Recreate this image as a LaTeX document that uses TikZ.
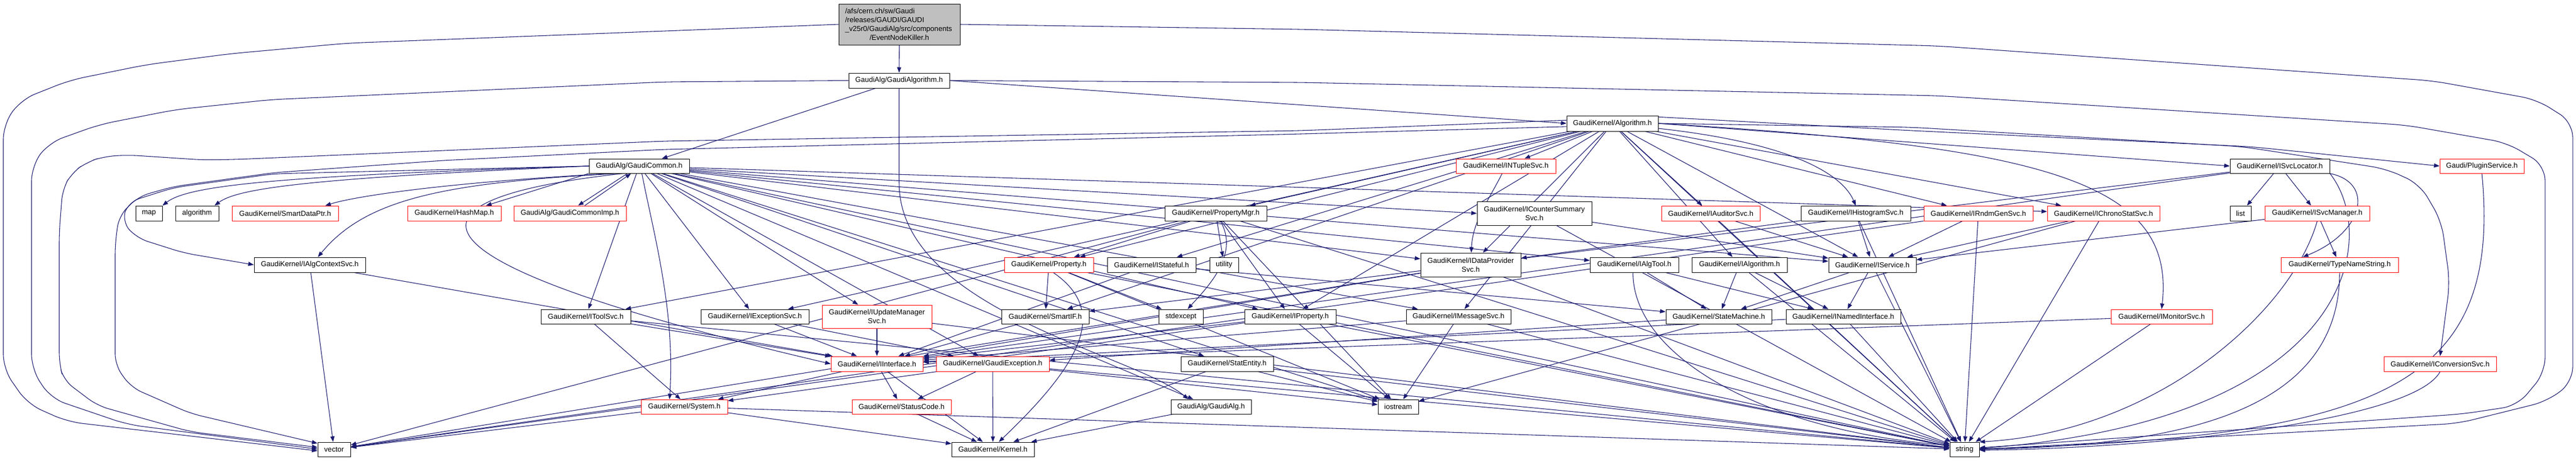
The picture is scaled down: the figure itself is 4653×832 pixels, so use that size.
\documentclass[tikz,border=0pt]{standalone}
\usepackage{fontspec}
\setmainfont{Liberation Sans}
\usetikzlibrary{arrows.meta}
\definecolor{navy}{RGB}{25,25,112}
\definecolor{topgray}{RGB}{191,191,191}
\newcommand\nodefont{\fontsize{9.8}{12}\selectfont}
\newcommand\gnode[7]{\node[#6, minimum width={(#4-#2)*0.75pt}, minimum height={(#5-#3)*0.75pt}] (#1) at ({(#2+#4)/2},{(#3+#5)/2}) {#7};}
\pgfdeclarelayer{back}
\pgfdeclarelayer{bg}
\pgfsetlayers{back,bg,main}
\begin{document}
\begin{tikzpicture}[x=0.75pt,y=-0.75pt,
  nbox/.style={draw=black, line width=0.75pt, fill=white, inner sep=0pt, font=\nodefont, align=center},
  rbox/.style={nbox, draw=red},
  gbox/.style={nbox, fill=topgray},
  dep/.style={draw=navy, line width=0.8pt, -{Triangle[length=7.5pt,width=5.5pt]}}]
\begin{pgfonlayer}{back}
\fill[white] (0,0) rectangle (4653,832);
\end{pgfonlayer}
\useasboundingbox (0,0) rectangle (4653,832);
% nodes
\gnode{top}{1515}{7}{1734}{81}{gbox}{\parbox{147pt}{\raggedright /afs/cern.ch/sw/Gaudi\\/releases/GAUDI/GAUDI\\\_v25r0/GaudiAlg/src/components\\\makebox[147pt]{/EventNodeKiller.h}}}
\gnode{galgo}{1533}{132}{1715}{159}{nbox}{GaudiAlg/GaudiAlgorithm.h}
\gnode{algo}{2830}{209}{2995}{237}{nbox}{GaudiKernel/Algorithm.h}
\gnode{gcom}{1064}{287}{1245}{313}{nbox}{GaudiAlg/GaudiCommon.h}
\gnode{ntuple}{2630}{287}{2810}{313}{rbox}{GaudiKernel/INTupleSvc.h}
\gnode{svcloc}{4028}{287}{4208}{313}{nbox}{GaudiKernel/ISvcLocator.h}
\gnode{plugin}{4407}{287}{4559}{313}{rbox}{Gaudi/PluginService.h}
\gnode{map}{245}{372}{293}{399}{nbox}{map}
\gnode{algm}{317}{372}{395}{399}{nbox}{algorithm}
\gnode{sdptr}{419}{372}{611}{399}{rbox}{GaudiKernel/SmartDataPtr.h}
\gnode{hashmap}{736}{372}{905}{399}{rbox}{GaudiKernel/HashMap.h}
\gnode{gcimp}{928}{372}{1131}{399}{rbox}{GaudiAlg/GaudiCommonImp.h}
\gnode{propmgr}{2104}{372}{2288}{399}{nbox}{GaudiKernel/PropertyMgr.h}
\gnode{counter}{2668}{364}{2875}{407}{nbox}{GaudiKernel/ICounterSummary\\Svc.h}
\gnode{auditor}{3001}{372}{3179}{399}{rbox}{GaudiKernel/IAuditorSvc.h}
\gnode{histo}{3253}{372}{3451}{399}{nbox}{GaudiKernel/IHistogramSvc.h}
\gnode{rndm}{3475}{372}{3672}{399}{rbox}{GaudiKernel/IRndmGenSvc.h}
\gnode{chrono}{3698}{372}{3901}{399}{rbox}{GaudiKernel/IChronoStatSvc.h}
\gnode{list}{4028}{372}{4066}{399}{nbox}{list}
\gnode{svcmgr}{4091}{372}{4280}{399}{rbox}{GaudiKernel/ISvcManager.h}
\gnode{actx}{459}{465}{660}{492}{nbox}{GaudiKernel/IAlgContextSvc.h}
\gnode{prop}{1814}{465}{1975}{492}{rbox}{GaudiKernel/Property.h}
\gnode{stateful}{2000}{465}{2160}{492}{nbox}{GaudiKernel/IStateful.h}
\gnode{utility}{2185}{465}{2237}{492}{nbox}{utility}
\gnode{dataprov}{2566}{457}{2747}{500}{nbox}{GaudiKernel/IDataProvider\\Svc.h}
\gnode{algtool}{2872}{465}{3032}{492}{nbox}{GaudiKernel/IAlgTool.h}
\gnode{ialgo}{3056}{465}{3228}{492}{nbox}{GaudiKernel/IAlgorithm.h}
\gnode{iservice}{3303}{465}{3461}{492}{nbox}{GaudiKernel/IService.h}
\gnode{tns}{4120}{465}{4332}{492}{rbox}{GaudiKernel/TypeNameString.h}
\gnode{toolsvc}{977}{559}{1139}{585}{nbox}{GaudiKernel/IToolSvc.h}
\gnode{excsvc}{1266}{559}{1461}{585}{nbox}{GaudiKernel/IExceptionSvc.h}
\gnode{updmgr}{1485}{551}{1683}{593}{rbox}{GaudiKernel/IUpdateManager\\Svc.h}
\gnode{smartif}{1809}{559}{1967}{585}{nbox}{GaudiKernel/SmartIF.h}
\gnode{stdexc}{2093}{559}{2173}{585}{nbox}{stdexcept}
\gnode{iprop}{2248}{559}{2413}{585}{nbox}{GaudiKernel/IProperty.h}
\gnode{msgsvc}{2540}{559}{2729}{585}{nbox}{GaudiKernel/IMessageSvc.h}
\gnode{statem}{3009}{559}{3200}{585}{nbox}{GaudiKernel/StateMachine.h}
\gnode{named}{3226}{559}{3433}{585}{nbox}{GaudiKernel/INamedInterface.h}
\gnode{monitor}{3813}{559}{3996}{585}{rbox}{GaudiKernel/IMonitorSvc.h}
\gnode{iface}{1501}{644}{1667}{671}{rbox}{GaudiKernel/IInterface.h}
\gnode{gexc}{1691}{644}{1895}{671}{rbox}{GaudiKernel/GaudiException.h}
\gnode{statent}{2133}{644}{2300}{671}{nbox}{GaudiKernel/StatEntity.h}
\gnode{convsvc}{4306}{644}{4509}{671}{rbox}{GaudiKernel/IConversionSvc.h}
\gnode{system}{1158}{722}{1314}{748}{rbox}{GaudiKernel/System.h}
\gnode{statcode}{1539}{722}{1718}{748}{rbox}{GaudiKernel/StatusCode.h}
\gnode{galg}{2115}{722}{2260}{748}{nbox}{GaudiAlg/GaudiAlg.h}
\gnode{iostream}{2489}{722}{2562}{748}{nbox}{iostream}
\gnode{vector}{574}{799}{633}{825}{nbox}{vector}
\gnode{kernel}{1719}{799}{1868}{825}{nbox}{GaudiKernel/Kernel.h}
\gnode{string}{3522}{799}{3575}{825}{nbox}{string}
\begin{pgfonlayer}{bg}
% outer routes, left
\draw[dep, rounded corners=20pt] (top.west) -- (628,78) -- (417,97) -- (264,117) -- (126,145) -- (38,180) -- (6,225) -- (6,667) -- (50,730) -- (122,762) -- (vector.185);
\draw[dep, rounded corners=20pt] (galgo.west) -- (1200,148) -- (490,180) -- (318,198) -- (180,225) -- (88,258) -- (57,300) -- (57,667) -- (92,720) -- (230,767) -- (vector.179);
\draw[dep, rounded corners=15pt] (algo.176) -- (2350,236) -- (1200,255) -- (428,288) -- (367,289) -- (230,280) -- (187,283) -- (157,293) -- (130,312) -- (113,342) -- (107,420) -- (107,657) -- (115,687) -- (176,733) -- (344,780) -- (vector.173);
\draw[dep, rounded corners=15pt] (algo.184) -- (2350,242) -- (1200,270) -- (800,290) -- (495,312) -- (314,337) -- (250,355) -- (215,390) -- (208,440) -- (208,660) -- (237,700) -- (344,747) -- (vector.160);
\draw[dep, rounded corners=15pt] (gcom.west) -- (495,314) -- (314,339) -- (232,365) -- (220,400) -- (247,430) -- (332,457) -- (actx.west);
% outer routes, right
\draw[dep, rounded corners=20pt] (top.east) -- (2350,53) -- (3500,83) -- (4394,146) -- (4582,180) -- (4647,221) -- (4647,690) -- (4601,725) -- (4440,765) -- (string.east);
\draw[dep, rounded corners=20pt] (galgo.east) -- (2350,149) -- (3500,173) -- (4345,226) -- (4528,258) -- (4597,299) -- (4597,673) -- (4547,733) -- (4448,748) -- (string.6);
\draw[dep, rounded corners=20pt] (algo.east) -- (3453,230) -- (4050,265) -- (4310,305) -- (4371,333) -- (4410,400) -- (4425,510) -- (convsvc.north);
\draw[dep, rounded corners=20pt] (algo.8) -- (3453,236) -- (4065,265) -- (plugin.west);
\draw[dep] (algo.east) -- (svcloc.west);
\draw[dep] (algo.east) .. controls (3700,265) and (3930,330) .. (monitor.north);
% top, GaudiAlgorithm
\draw[dep] (top) -- (galgo);
\draw[dep] (galgo) -- (gcom);
\draw[dep] (galgo.east) -- (algo.west);
\draw[dep] (galgo.south) -- (1624,330) .. controls (1624,560) and (2050,640) .. ([xshift=24pt]galg.north west);
% GaudiCommon
\draw[dep] (gcom.west) .. controls (500,318) and (340,335) .. (map.north east);
\draw[dep] (gcom.west) .. controls (560,322) and (430,340) .. ([xshift=-6pt]algm.north east);
\draw[dep] (gcom.195) .. controls (800,330) and (640,355) .. ([xshift=-18pt]sdptr.north east);
\draw[dep] (gcom.south west) -- ([xshift=43pt]hashmap.north);
\draw[dep] ([xshift=-16pt]gcom.south) -- ([xshift=11pt]gcimp.north);
\draw[dep] ([xshift=20pt]gcimp.north) -- ([xshift=-11pt]gcom.south);
\draw[dep] (gcom.200) .. controls (800,330) and (660,360) .. ([xshift=11pt]actx.north);
\draw[dep] (gcom.205) .. controls (700,360) and (700,470) .. (iface.west);
\draw[dep] (gcom) -- (toolsvc);
\draw[dep] (gcom.-70) .. controls (1180,420) and (1220,560) .. ([xshift=-20pt]system.north);
\draw[dep] (gcom) -- (excsvc);
\draw[dep] (gcom) -- (updmgr);
\draw[dep] (gcom) -- (gexc);
\draw[dep] (gcom) -- (statent);
\draw[dep] (gcom) -- (galg);
\draw[dep] (gcom) -- (dataprov);
\draw[dep] (gcom) -- (counter.west);
\draw[dep] (gcom) -- (chrono);
\draw[dep] (gcom) -- (algtool);
\draw[dep] (gcom) -- (iservice);
\draw[dep] (gcom) -- (msgsvc);
\draw[dep] (gcom) -- (iprop);
\draw[dep] (gcom) -- (iostream);
\draw[dep] (gcom) -- (string);
% Algorithm
\draw[dep] (algo) -- (ntuple);
\draw[dep] (algo) -- (auditor);
\draw[dep] (algo) .. controls (3250,260) and (3330,320) .. (histo.north);
\draw[dep] (algo) -- (rndm);
\draw[dep] (algo) -- (chrono);
\draw[dep] (algo) -- (dataprov);
\draw[dep] (algo) -- (ialgo);
\draw[dep] (algo) -- (iservice);
\draw[dep] (algo) -- (iprop);
\draw[dep] (algo) -- (propmgr);
\draw[dep] (algo) -- (msgsvc);
\draw[dep] (algo) -- (stateful);
\draw[dep] (algo) -- (prop);
\draw[dep] (algo) -- (toolsvc);
\draw[dep] (algo) -- (excsvc);
\draw[dep] (algo) -- (smartif);
\draw[dep] (algo) -- (string);
% second level
\draw[dep] (ntuple) .. controls (2690,360) and (2660,400) .. (dataprov);
\draw[dep] (svcloc) -- (list);
\draw[dep] (svcloc) -- (svcmgr);
\draw[dep] (svcloc.south east) .. controls (4290,330) and (4270,420) .. ([xshift=30pt]tns.north west);
\draw[dep] (svcloc) -- (iface);
\draw[dep] (svcloc) -- (smartif);
\draw[dep] (svcloc.south east) .. controls (4300,430) and (4250,760) .. (string.4);
\draw[dep] (plugin.south) .. controls (4520,700) and (4300,790) .. (string.2);
\draw[dep] (propmgr) -- (prop);
\draw[dep] (propmgr) -- (iprop);
\draw[dep] (propmgr) -- (utility);
\draw[dep] (propmgr) .. controls (2240,460) and (2180,520) .. (stdexc);
\draw[dep] (propmgr) -- (vector);
\draw[dep] (propmgr) -- (string);
\draw[dep] (propmgr) -- (iostream);
\draw[dep] (counter) -- (iservice);
\draw[dep] (counter) -- (string);
\draw[dep] (auditor) -- (iservice);
\draw[dep] (auditor) -- (string);
\draw[dep] (histo) -- (dataprov);
\draw[dep] (histo) -- (iservice);
\draw[dep] (histo) -- (string);
\draw[dep] (rndm) -- (iservice);
\draw[dep] (rndm) -- (string);
\draw[dep] (rndm) -- (vector);
\draw[dep] (chrono) -- (iservice);
\draw[dep] (chrono) -- (string);
\draw[dep] (chrono) -- (iostream);
\draw[dep] (svcmgr) -- (iservice);
\draw[dep] (svcmgr) -- (tns);
\draw[dep] (svcmgr.south) .. controls (4140,560) and (3900,780) .. (string.north east);
\draw[dep] (tns.south) .. controls (4226,760) and (3900,805) .. (string.0);
\draw[dep] (convsvc.south) .. controls (4360,760) and (3900,810) .. (string.-3);
\draw[dep] (monitor) -- (iface);
\draw[dep] (monitor) -- (string);
\draw[dep] (actx) -- (iface);
\draw[dep] (actx) -- (vector);
\draw[dep] (prop) -- (smartif);
\draw[dep] (prop) -- (stdexc);
\draw[dep] (prop.-60) .. controls (2000,560) and (1960,650) .. ([xshift=8pt]kernel.north);
\draw[dep] (prop) -- (string);
\draw[dep] (prop) -- (iostream);
\draw[dep] (stateful) -- (iface);
\draw[dep] (stateful) -- (statem);
\draw[dep] (dataprov) -- (iface);
\draw[dep] (dataprov) -- (string);
\draw[dep] (dataprov) -- (vector);
\draw[dep] (algtool) -- (named);
\draw[dep] (algtool) -- (statem);
\draw[dep] (algtool.-100) .. controls (2950,650) and (3200,780) .. (string.165);
\draw[dep] (ialgo) -- (named);
\draw[dep] (ialgo) -- (statem);
\draw[dep] (ialgo) -- (string);
\draw[dep] (iservice) -- (named);
\draw[dep] (iservice) -- (statem);
\draw[dep] (iservice) -- (string);
\draw[dep] (toolsvc) -- (iface);
\draw[dep] (toolsvc) -- ([xshift=-5pt]system.north);
\draw[dep] (toolsvc) -- (string);
\draw[dep] (excsvc) -- (iface);
\draw[dep] (excsvc) -- (gexc);
\draw[dep] (updmgr) -- (iface);
\draw[dep] (updmgr) -- (string);
\draw[dep] (smartif) -- (iface);
\draw[dep] (iprop) -- (iface);
\draw[dep] (iprop) -- (string);
\draw[dep] (iprop) -- (iostream);
\draw[dep] (iprop) -- (vector);
\draw[dep] (msgsvc) -- (iface);
\draw[dep] (msgsvc) -- (iostream);
\draw[dep] (msgsvc) -- (string);
\draw[dep] (statem) -- (gexc);
\draw[dep] (named) -- (iface);
\draw[dep] (named) -- (string);
\draw[dep] (iface) -- (kernel);
\draw[dep] (iface) -- (system);
\draw[dep] (iface) -- (statcode);
\draw[dep] (gexc) -- (kernel);
\draw[dep] (gexc) -- (statcode);
\draw[dep] (gexc) -- (system);
\draw[dep] (gexc) -- (string);
\draw[dep] (gexc) -- (iostream);
\draw[dep] (statent) -- (kernel);
\draw[dep] (statent) -- (string);
\draw[dep] (statent) -- (iostream);
\draw[dep] (system) -- (kernel);
\draw[dep] (system) -- (string);
\draw[dep] (system) -- (vector);
\draw[dep] (statcode) -- (kernel);
\draw[dep] (galg) -- (kernel);
\end{pgfonlayer}
\end{tikzpicture}
\end{document}
